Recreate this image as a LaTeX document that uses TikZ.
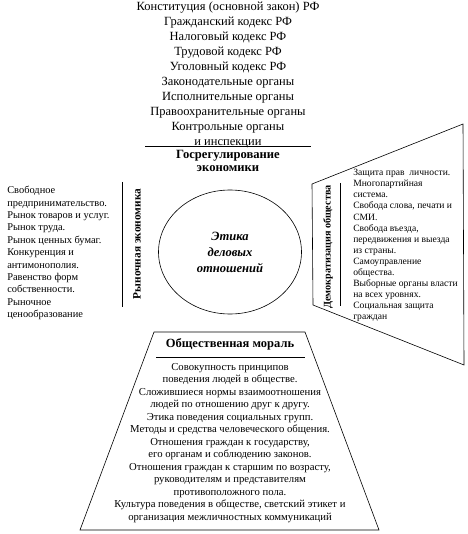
\documentclass[tikz,border=0pt]{standalone}
\usepackage{fontspec}
\setmainfont{Liberation Serif}
\usepackage{tikz}
\usetikzlibrary{shapes.geometric}

\begin{document}
\begin{tikzpicture}[x=1pt,y=-1pt,line width=0.6pt,
  big/.style={font=\fontsize{12.5}{14.9}\selectfont,align=center,inner sep=0pt},
  side/.style 2 args={font=\fontsize{#1}{#2}\selectfont,align=left,inner sep=0pt},
  vlabel/.style={font=\bfseries\fontsize{11.3}{12}\selectfont,rotate=90,inner sep=0pt}]
  \useasboundingbox (0,0) rectangle (467,534);
  % top block
  \node[big,anchor=north] (zakony) at (228,2) {Конституция (основной закон) РФ\\Гражданский кодекс РФ\\Налоговый кодекс РФ\\Трудовой кодекс РФ\\Уголовный кодекс РФ\\Законодательные органы\\Исполнительные органы\\Правоохранительные органы\\Контрольные органы\\и инспекции};
  \draw (145,146) -- (311,146);
  \node[big,font=\bfseries\fontsize{12.6}{13}\selectfont,anchor=north] (gosreg) at (228,150) {Госрегулирование\\экономики};
  % centre
  \node[draw,ellipse,minimum width=143pt,minimum height=124pt,inner sep=0pt,
    align=center,font=\bfseries\itshape\fontsize{12.6}{16}\selectfont] (etika) at (230,252) {Этика\\деловых\\отношений};
  % left
  \draw (122,182) -- (122,307);
  \node[vlabel] (rynoklabel) at (137,244) {Рыночная экономика};
  \node[side={10.4}{12.4},anchor=north west] (rynok) at (7,186) {Свободное\\предпринимательство.\\Рынок товаров и услуг.\\Рынок труда.\\Рынок ценных бумаг.\\Конкуренция и\\антимонополия.\\Равенство форм\\собственности.\\Рыночное\\ценообразование};
  % right
  \draw (312,184) -- (463,124) -- (464,365) -- (313,305) -- cycle;
  \draw (340,183) -- (340,306);
  \node[vlabel,font=\bfseries\fontsize{10.2}{12}\selectfont] (demokrlabel) at (328,247) {Демократизация общества};
  \node[side={9.6}{11.1},anchor=north west] (demokr) at (353,169) {Защита прав\ \ личности.\\Многопартийная\\система.\\Свобода слова, печати и\\СМИ.\\Свобода въезда,\\передвижения и выезда\\из страны.\\Самоуправление\\общества.\\Выборные органы власти\\на всех уровнях.\\Социальная защита\\граждан};
  % bottom
  \draw (154,332) -- (305,332) -- (379,530) -- (80,530) -- cycle;
  \node[big,font=\bfseries\fontsize{12.5}{14}\selectfont,anchor=north] (moral) at (230,338) {Общественная мораль};
  \draw (156,357) -- (305,357);
  \node[big,font=\fontsize{10.7}{12.5}\selectfont,anchor=north] (moraltext) at (230,363) {Совокупность принципов\\поведения людей в обществе.\\Сложившиеся нормы взаимоотношения\\людей по отношению друг к другу.\\Этика поведения социальных групп.\\Методы и средства человеческого общения.\\Отношения граждан к государству,\\его органам и соблюдению законов.\\Отношения граждан к старшим по возрасту,\\руководителям и представителям\\противоположного пола.\\Культура поведения в обществе, светский этикет и\\организация межличностных коммуникаций};
\end{tikzpicture}
\end{document}
